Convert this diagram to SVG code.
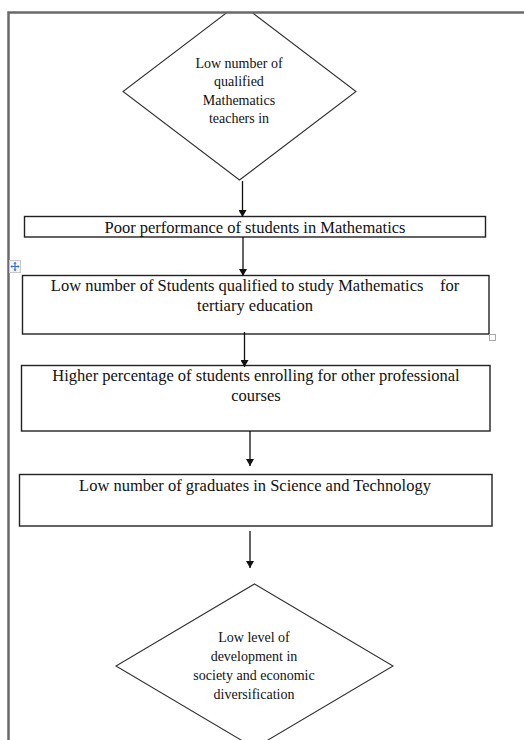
<svg xmlns="http://www.w3.org/2000/svg" width="524" height="740" viewBox="0 0 524 740">
<style>
.box{fill:#fff;stroke:#222;stroke-width:1.4}
.dia{fill:#fff;stroke:#333;stroke-width:1.1}
.t{font-family:"Liberation Serif","Times New Roman",serif;fill:#111;text-anchor:middle}
.tb{font-size:16.5px}
.td{font-size:14px}
.con{stroke:#111;stroke-width:1.3;fill:none}
</style>
<defs>
<marker id="ah" markerWidth="7" markerHeight="8" refX="7" refY="4" orient="auto" markerUnits="userSpaceOnUse">
<path d="M0,0 L7,4 L0,8 Z" fill="#111"/>
</marker>
<clipPath id="page"><rect x="8" y="12" width="516" height="728"/></clipPath>
</defs>
<rect x="0" y="0" width="524" height="740" fill="#fff"/>
<g clip-path="url(#page)">
<g id="node-teachers">
<polygon class="dia" points="239.5,3 356,91.5 239.5,180 123,91.5"/>
<text class="t td" x="239" y="67.5">Low number of</text>
<text class="t td" x="239" y="86">qualified</text>
<text class="t td" x="239" y="104.5">Mathematics</text>
<text class="t td" x="239" y="123">teachers in</text>
</g>
<g id="node-poor">
<rect class="box" x="24.5" y="216.5" width="461" height="20.5"/>
<text class="t tb" x="255" y="232.5">Poor performance of students in Mathematics</text>
</g>
<g id="node-qualified">
<rect class="box" x="22.5" y="275.5" width="466.5" height="58.5"/>
<text class="t tb" x="255" y="290.5" xml:space="preserve">Low number of Students qualified to study Mathematics    for</text>
<text class="t tb" x="255" y="310.5">tertiary education</text>
</g>
<g id="node-enrolling">
<rect class="box" x="21.5" y="365.5" width="468.5" height="65.5"/>
<text class="t tb" x="256" y="380.5">Higher percentage of students enrolling for other professional</text>
<text class="t tb" x="256" y="400.5">courses</text>
</g>
<g id="node-graduates">
<rect class="box" x="19.5" y="474.5" width="472.5" height="51.5"/>
<text class="t tb" x="255" y="490.5">Low number of graduates in Science and Technology</text>
</g>
<g id="node-development">
<polygon class="dia" points="254.5,584 393,666 254.5,748 116,666"/>
<text class="t td" x="254" y="641.5">Low level of</text>
<text class="t td" x="254" y="660.5">development in</text>
<text class="t td" x="254" y="679.5">society and economic</text>
<text class="t td" x="254" y="698.5">diversification</text>
</g>
<g id="connectors">
<line class="con" x1="242.5" y1="181" x2="242.5" y2="217" marker-end="url(#ah)"/>
<line class="con" x1="243" y1="237" x2="243" y2="276" marker-end="url(#ah)"/>
<line class="con" x1="244.5" y1="332" x2="244.5" y2="367" marker-end="url(#ah)"/>
<line class="con" x1="250" y1="431" x2="250" y2="466" marker-end="url(#ah)"/>
<line class="con" x1="250" y1="531" x2="250" y2="568" marker-end="url(#ah)"/>
</g>
</g>
<g id="frame">
<path d="M8.5,740 V12.5 H524" fill="none" stroke="#6a6a6a" stroke-width="2.5"/>
</g>
<g id="handles">
<rect x="9.5" y="260.5" width="11" height="12" fill="#f4f4f4" stroke="#c8c8c8" stroke-width="1"/>
<path d="M15,262.5 V270.5 M11,266.5 H19" stroke="#3a6fd0" stroke-width="1.2"/>
<path d="M15,261.8 L13.4,263.8 H16.6 Z M15,271.2 L13.4,269.2 H16.6 Z M10.3,266.5 L12.3,264.9 V268.1 Z M19.7,266.5 L17.7,264.9 V268.1 Z" fill="#3a6fd0"/>
<rect x="489.5" y="334.5" width="6" height="6" fill="#fff" stroke="#aaa" stroke-width="1"/>
</g>
</svg>
